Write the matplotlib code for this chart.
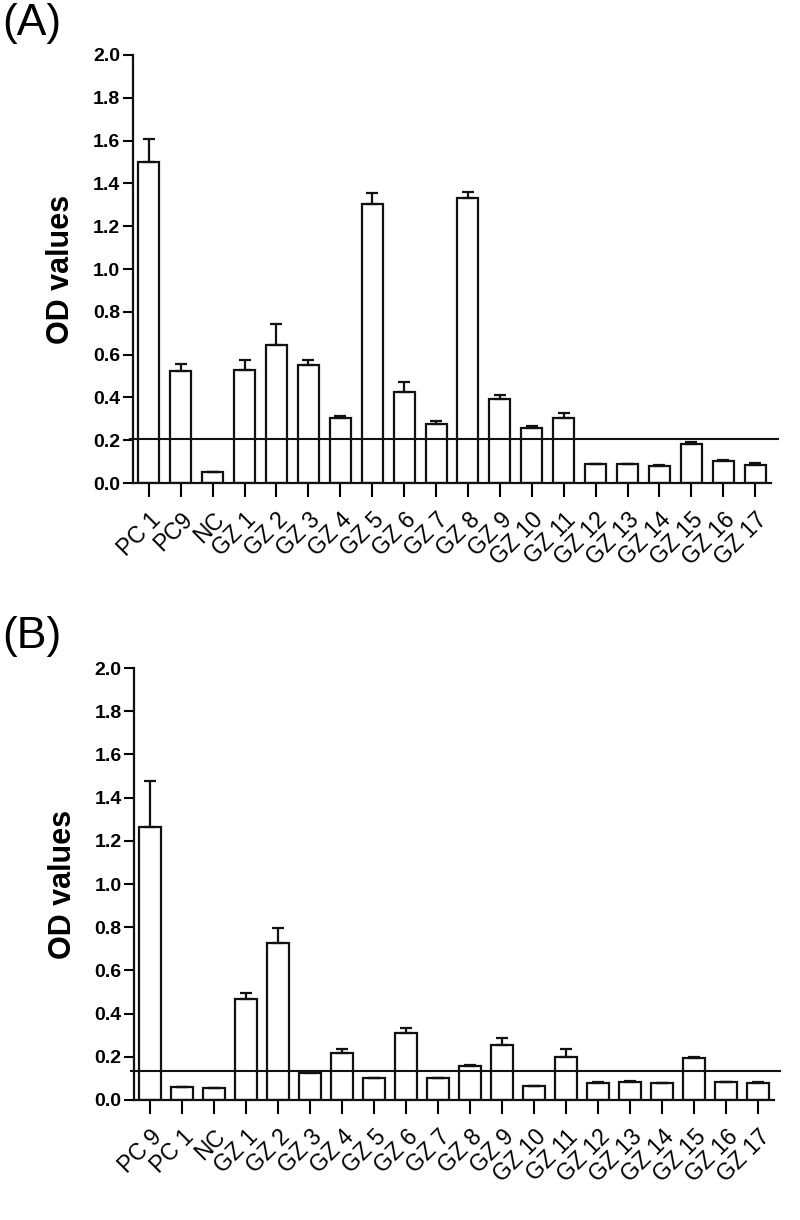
import matplotlib
matplotlib.use("Agg")
import matplotlib.pyplot as plt
import numpy as np

plt.rcParams['font.family'] = ['Liberation Sans', 'DejaVu Sans']

# ---- data ----
labels_a = ["PC 1", "PC9", "NC", "GZ 1", "GZ 2", "GZ 3", "GZ 4", "GZ 5", "GZ 6", "GZ 7",
            "GZ 8", "GZ 9", "GZ 10", "GZ 11", "GZ 12", "GZ 13", "GZ 14", "GZ 15", "GZ 16", "GZ 17"]
values_a = [1.50, 0.524, 0.051, 0.526, 0.644, 0.554, 0.305, 1.304, 0.425, 0.274,
            1.331, 0.394, 0.257, 0.302, 0.089, 0.087, 0.081, 0.184, 0.103, 0.086]
errors_a = [0.108, 0.033, 0.003, 0.047, 0.098, 0.022, 0.009, 0.053, 0.048, 0.016,
            0.030, 0.018, 0.011, 0.025, 0.002, 0.002, 0.003, 0.007, 0.003, 0.007]
cutoff_a = 0.206

labels_b = ["PC 9", "PC 1", "NC", "GZ 1", "GZ 2", "GZ 3", "GZ 4", "GZ 5", "GZ 6", "GZ 7",
            "GZ 8", "GZ 9", "GZ 10", "GZ 11", "GZ 12", "GZ 13", "GZ 14", "GZ 15", "GZ 16", "GZ 17"]
values_b = [1.265, 0.060, 0.054, 0.468, 0.727, 0.124, 0.216, 0.102, 0.312, 0.100,
            0.159, 0.255, 0.066, 0.198, 0.080, 0.083, 0.080, 0.192, 0.083, 0.080]
errors_b = [0.210, 0.0, 0.0, 0.026, 0.067, 0.006, 0.022, 0.0, 0.020, 0.0,
            0.005, 0.034, 0.0, 0.037, 0.005, 0.004, 0.0, 0.008, 0.0, 0.003]
cutoff_b = 0.136

yticks = [0.0, 0.2, 0.4, 0.6, 0.8, 1.0, 1.2, 1.4, 1.6, 1.8, 2.0]

fig = plt.figure(figsize=(8, 12.2), dpi=100)

def panel(rect, labels, values, errors, cutoff, tag, tag_y):
    ax = fig.add_axes(rect)
    x = np.arange(len(labels))
    ax.bar(x, values, width=0.66, color='white', edgecolor='#111111', linewidth=1.6, zorder=2)
    ax.errorbar(x, values, yerr=[np.zeros(len(errors)), errors], fmt='none',
                ecolor='#111111', elinewidth=1.6, capsize=4.5, capthick=1.6, zorder=3)
    ax.plot([-0.6, len(labels) - 0.3], [cutoff, cutoff], color='#111111', lw=1.5,
            clip_on=False, zorder=4)
    ax.set_xlim(-0.5, len(labels) - 0.5)
    ax.set_ylim(0, 2.0)
    ax.set_yticks(yticks)
    ax.set_yticklabels([f"{t:.1f}" for t in yticks], fontsize=14, fontweight='bold')
    ax.set_xticks(x)
    ax.set_xticklabels(labels, rotation=45, ha='right', rotation_mode='anchor', fontsize=16.5)
    ax.tick_params(axis='x', length=10, width=1.5, pad=8)
    ax.tick_params(axis='y', length=7, width=1.5, pad=2)
    for s in ['top', 'right']:
        ax.spines[s].set_visible(False)
    for s in ['left', 'bottom']:
        ax.spines[s].set_linewidth(1.6)
        ax.spines[s].set_color('#111111')
    ax.set_ylabel("OD values", fontsize=22, fontweight='bold', labelpad=12)
    fig.text(0.003, tag_y, tag, fontsize=32, ha='left', va='center')
    return ax

panel([0.166, 0.604, 0.798, 0.351], labels_a, values_a, errors_a, cutoff_a, "(A)", 0.981)
panel([0.1675, 0.0984, 0.800, 0.354], labels_b, values_b, errors_b, cutoff_b, "(B)", 0.478)

fig.savefig("out.png", dpi=100)
